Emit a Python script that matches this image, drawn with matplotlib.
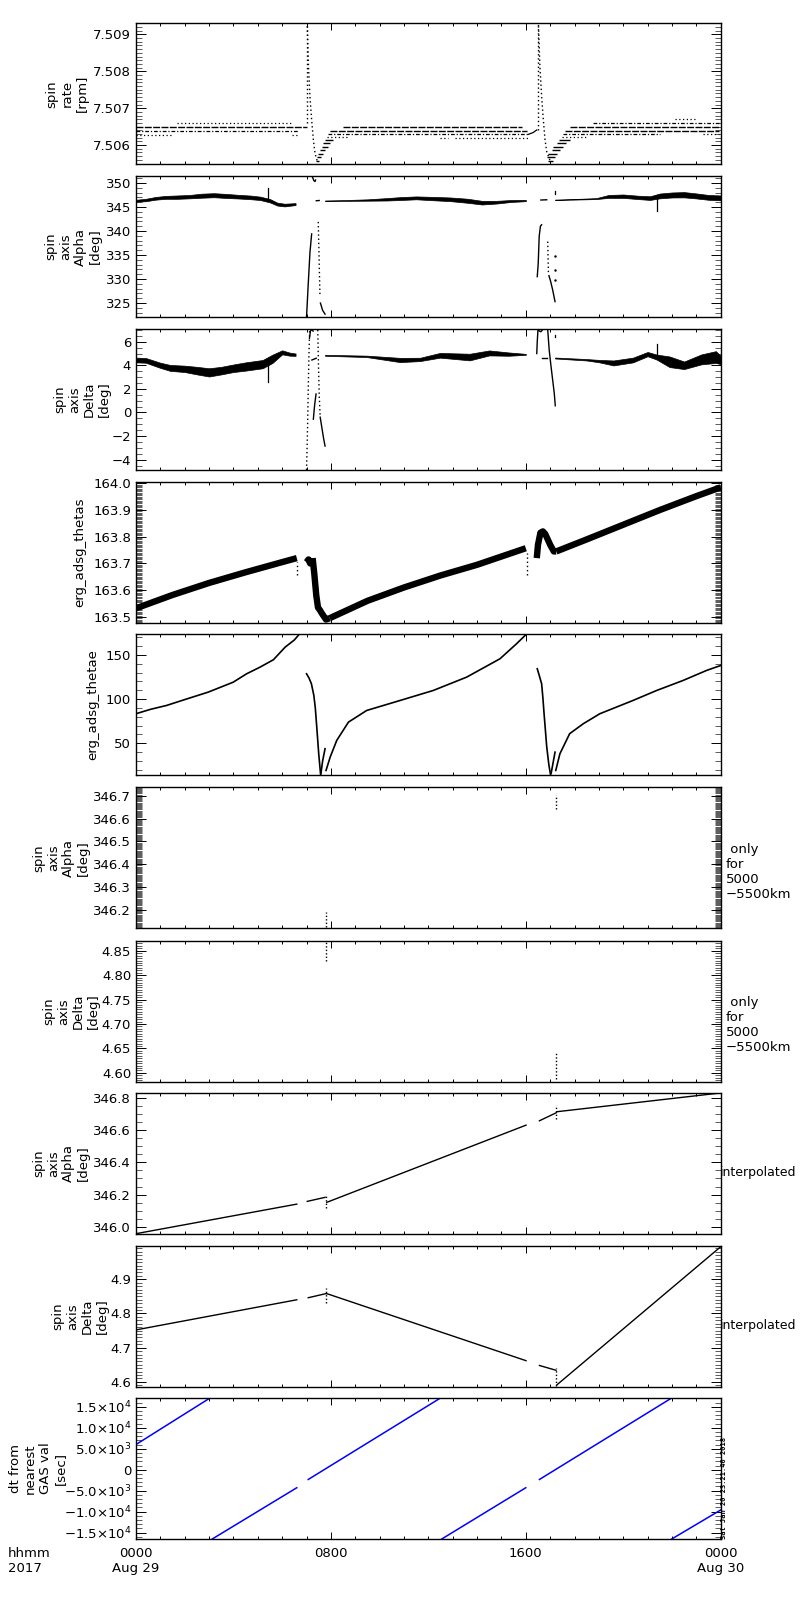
import numpy as np
import matplotlib
matplotlib.use('Agg')
import matplotlib.pyplot as plt
from matplotlib.ticker import MultipleLocator, FixedLocator, FixedFormatter, NullFormatter

plt.rcParams['font.family'] = ['DejaVu Sans']

# time axis is hours from 2017-08-29 0000 UT

# ---- panel 1: spin rate [rpm], quantised levels (start hr, end hr, value)
rateDense = [(0.00, 7.00, 7.50648), (8.50, 15.83, 7.50648), (7.96, 16.04, 7.50638),
             (17.81, 23.95, 7.50648), (17.60, 23.95, 7.50638)]
rateDashDot = [(0.00, 6.64, 7.50638), (7.90, 16.10, 7.50629), (17.54, 21.50, 7.50629),
               (18.77, 23.95, 7.50659)]
rateDotted = [(1.68, 6.39, 7.50659), (0.00, 1.43, 7.50628), (6.39, 6.64, 7.50628),
              (7.83, 8.72, 7.50621), (12.48, 12.80, 7.50620), (13.10, 16.13, 7.50620),
              (17.47, 18.50, 7.50621), (22.12, 23.00, 7.50670), (23.27, 23.95, 7.50629)]
rateStairs = [(7.38, 7.50, 7.50557), (7.42, 7.60, 7.50568), (7.49, 7.69, 7.50577),
              (7.55, 7.76, 7.50586), (7.63, 7.90, 7.50595), (7.69, 7.96, 7.50605),
              (7.76, 8.10, 7.50614),
              (16.93, 17.13, 7.50557), (16.86, 17.20, 7.50568), (16.93, 17.27, 7.50577),
              (17.06, 17.40, 7.50586), (17.13, 17.54, 7.50595), (17.27, 17.67, 7.50605),
              (17.38, 17.81, 7.50614)]
rateSpikeRise = [(7.00, 7.5066, 7.5093), (16.49, 7.5064, 7.5093)]
rateDescent1T = [7.03, 7.08, 7.14, 7.21, 7.28, 7.35, 7.44]
rateDescent1V = [7.50922, 7.50813, 7.50732, 7.50668, 7.50614, 7.50577, 7.50557]
rateDescent2T = [16.52, 16.58, 16.65, 16.72, 16.79, 16.86, 17.00]
rateDescent2V = [7.50922, 7.50813, 7.50732, 7.50668, 7.50614, 7.50582, 7.50557]
rateRampT = [16.10, 16.30, 16.45]
rateRampV = [7.50629, 7.50634, 7.50641]

# ---- panel 2: spin axis alpha [deg]
alphaBand1T = [0.0, 0.4, 0.8, 1.2, 1.7, 2.2, 2.7, 3.2, 3.7, 4.2, 4.7, 5.1, 5.5, 5.8, 6.1, 6.55]
alphaBand1C = [346.3, 346.45, 346.8, 347.0, 347.05, 347.15, 347.35, 347.45, 347.3, 347.15,
               347.0, 346.8, 346.3, 345.6, 345.4, 345.6]
alphaBand1W = [0.2, 0.25, 0.28, 0.3, 0.35, 0.35, 0.42, 0.42, 0.42, 0.38, 0.38, 0.35, 0.35,
               0.3, 0.28, 0.2]
alphaBand2T = [7.76, 8.5, 9.5, 10.3, 10.84, 11.5, 12.2, 12.9, 13.6, 14.2, 14.8, 15.4, 16.0]
alphaBand2C = [346.3, 346.35, 346.45, 346.6, 346.75, 346.9, 346.75, 346.6, 346.3, 345.9,
               346.0, 346.25, 346.35]
alphaBand2W = [0.05, 0.08, 0.14, 0.25, 0.3, 0.3, 0.35, 0.38, 0.42, 0.38, 0.28, 0.2, 0.14]
alphaBand3T = [17.2, 18.0, 18.9, 19.4, 20.0, 20.6, 21.1, 21.5, 22.0, 22.5, 23.0, 23.5, 24.0]
alphaBand3C = [346.5, 346.6, 346.75, 347.2, 347.25, 347.0, 346.85, 347.3, 347.5, 347.55,
               347.3, 347.0, 346.9]
alphaBand3W = [0.04, 0.06, 0.1, 0.3, 0.35, 0.35, 0.38, 0.5, 0.52, 0.55, 0.52, 0.5, 0.5]
alphaSticks = [(5.40, 346.5, 348.9), (21.37, 344.1, 347.3), (17.21, 347.6, 348.3)]
alphaRise1T = [7.00, 7.07, 7.14, 7.21]
alphaRise1V = [322.1, 329.0, 335.5, 339.4]
alphaTop1T = [7.23, 7.30, 7.35, 7.37]
alphaTop1V = [351.4, 350.5, 350.3, 350.6]
alphaDash1T = [7.40, 7.52]
alphaDash1V = [346.3, 346.35]
alphaDot1T = [7.48, 7.55]
alphaDot1V = [341.9, 326.7]
alphaFall1T = [7.57, 7.66, 7.76]
alphaFall1V = [325.0, 323.5, 322.7]
alphaRise2T = [16.47, 16.51, 16.55, 16.60, 16.65]
alphaRise2V = [330.5, 333.3, 338.9, 341.0, 341.3]
alphaDash2T = [16.62, 16.86]
alphaDash2V = [346.45, 346.5]
alphaDot2T = [16.90, 16.93]
alphaDot2V = [337.8, 330.9]
alphaFall2T = [16.95, 17.02, 17.10, 17.20]
alphaFall2V = [330.7, 329.5, 327.8, 325.3]
alphaDots2 = [(17.21, 334.7), (17.21, 331.8), (17.21, 329.8)]

# ---- panel 3: spin axis delta [deg]
deltaBand1T = [0.0, 0.4, 1.0, 1.4, 2.0, 2.5, 3.0, 3.5, 4.0, 4.5, 5.2, 5.6, 6.0, 6.3, 6.55]
deltaBand1C = [4.45, 4.42, 4.0, 3.78, 3.7, 3.55, 3.4, 3.55, 3.75, 3.9, 4.1, 4.55, 5.1, 4.95, 4.9]
deltaBand1W = [0.2, 0.2, 0.22, 0.25, 0.27, 0.32, 0.35, 0.32, 0.32, 0.35, 0.35, 0.35, 0.17,
               0.13, 0.1]
deltaBand2T = [7.76, 9.47, 10.84, 11.66, 12.48, 13.7, 14.5, 15.3, 16.0]
deltaBand2C = [4.85, 4.76, 4.45, 4.5, 4.85, 4.7, 5.05, 4.95, 4.93]
deltaBand2W = [0.04, 0.06, 0.18, 0.14, 0.2, 0.28, 0.21, 0.14, 0.04]
deltaBand3T = [17.2, 18.5, 19.0, 19.6, 20.4, 21.0, 21.37, 21.9, 22.5, 23.2, 23.8, 24.0]
deltaBand3C = [4.62, 4.47, 4.36, 4.2, 4.45, 4.95, 4.7, 4.3, 4.0, 4.5, 4.7, 4.45]
deltaBand3W = [0.04, 0.06, 0.1, 0.21, 0.2, 0.18, 0.21, 0.45, 0.32, 0.42, 0.5, 0.35]
deltaSticks = [(5.43, 2.56, 4.0), (21.37, 4.5, 5.85), (17.21, 6.4, 6.6)]
deltaRise1T = [7.00, 7.04, 7.07, 7.10, 7.13]
deltaRise1V = [-4.88, -1.5, 2.0, 5.0, 7.08]
deltaTop1T = [7.12, 7.16, 7.22, 7.27]
deltaTop1V = [6.3, 6.9, 7.05, 6.9]
deltaDash1T = [7.22, 7.40]
deltaDash1V = [4.45, 4.6]
deltaMid1T = [7.28, 7.33, 7.39]
deltaMid1V = [-0.57, 0.6, 1.57]
deltaDot1T = [7.46, 7.49, 7.52, 7.56]
deltaDot1V = [7.0, 4.0, 1.5, -0.4]
deltaFall1T = [7.56, 7.63, 7.70, 7.76]
deltaFall1V = [-0.4, -1.3, -2.2, -2.85]
deltaRise2T = [16.45, 16.47, 16.50, 16.56, 16.62, 16.70, 16.76]
deltaRise2V = [5.0, 6.0, 7.04, 6.9, 6.85, 7.05, 7.08]
deltaDash2T = [16.65, 16.86]
deltaDash2V = [4.62, 4.62]
deltaFall2T = [16.90, 16.96, 17.03, 17.10, 17.17, 17.21]
deltaFall2V = [7.0, 5.3, 4.0, 2.8, 1.6, 0.57]

# ---- panel 4: erg_adsg_thetas
thetasBand1T = [0.0, 1.5, 3.0, 4.5, 6.0, 6.6]
thetasBand1C = [163.532, 163.582, 163.627, 163.667, 163.705, 163.72]
thetasOrbit1T = [7.0, 7.08, 7.15, 7.22]
thetasOrbit1C = [163.705, 163.715, 163.70, 163.72]
thetasFall1T = [7.25, 7.32, 7.40, 7.47, 7.55, 7.65, 7.80, 7.95]
thetasFall1C = [163.72, 163.66, 163.58, 163.535, 163.525, 163.51, 163.49, 163.495]
thetasBand2T = [7.95, 9.5, 11.0, 12.5, 14.0, 16.0]
thetasBand2C = [163.495, 163.56, 163.61, 163.655, 163.695, 163.757]
thetasBumpT = [16.45, 16.50, 16.60, 16.70, 16.80, 16.90, 17.00, 17.15, 17.25]
thetasBumpC = [163.72, 163.77, 163.815, 163.82, 163.81, 163.79, 163.77, 163.745, 163.745]
thetasBand3T = [17.25, 18.5, 20.0, 21.5, 23.0, 24.0]
thetasBand3C = [163.745, 163.79, 163.845, 163.9, 163.952, 163.985]
thetasSticks = [(6.62, 163.655, 163.705), (16.05, 163.655, 163.74)]

# ---- panel 5: erg_adsg_thetae
thetae1T = [0.0, 0.6, 1.26, 2.0, 2.97, 3.99, 4.54, 5.09, 5.64, 6.12, 6.5, 6.7]
thetae1V = [83.5, 88.5, 92.9, 99.5, 108, 119.2, 128.7, 136.2, 144.6, 158.8, 167, 173.4]
thetae2T = [7.00, 7.10, 7.20, 7.30, 7.36, 7.42, 7.50, 7.58]
thetae2V = [128.7, 124, 117.4, 104.2, 90, 68.3, 38.2, 13.8]
thetae3T = [7.59, 7.66, 7.76]
thetae3V = [15.6, 30, 43.9]
thetae4T = [7.80, 7.97, 8.24, 8.72, 9.47, 10.84, 12.2, 13.57, 14.94, 15.62, 16.02]
thetae4V = [19.3, 34.4, 53.3, 74, 87.2, 98.5, 109.8, 124.9, 145.7, 162.7, 173.4]
thetae5T = [16.47, 16.55, 16.65, 16.70, 16.75, 16.86, 16.95, 17.02]
thetae5V = [134.4, 127, 117.4, 102, 83.5, 45.7, 25, 13.8]
thetae6T = [17.04, 17.12, 17.20]
thetae6V = [16, 28, 40]
thetae7T = [17.23, 17.40, 17.80, 18.36, 19.04, 20.4, 21.37, 22.46, 23.42, 24.0]
thetae7V = [19.3, 38.2, 60.9, 72.2, 83.5, 98.5, 109.8, 121.2, 132.5, 138.1]

# ---- panels 6,7: alpha/delta only for 5000-5500 km
alphaOnlySticks = [(7.80, 346.127, 346.193), (17.24, 346.644, 346.702)]
deltaOnlySticks = [(7.80, 4.8294, 4.8685), (17.24, 4.5877, 4.6424)]

# ---- panels 8,9: interpolated
alphaInterpT = [0.0, 6.60, np.nan, 7.03, 7.76, np.nan, 7.83, 16.01, np.nan, 16.56, 17.24,
                np.nan, 17.27, 23.63, 24.0]
alphaInterpV = [345.958, 346.141, np.nan, 346.158, 346.183, np.nan, 346.152, 346.63, np.nan,
                346.657, 346.706, np.nan, 346.713, 346.823, 346.829]
alphaInterpSticks = [(7.80, 346.12, 346.204), (17.24, 346.671, 346.754)]
deltaInterpT = [0.0, 6.60, np.nan, 7.07, 7.80, np.nan, 7.83, 16.01, np.nan, 16.56, 17.24,
                np.nan, 17.27, 24.0]
deltaInterpV = [4.752, 4.840, np.nan, 4.846, 4.858, np.nan, 4.858, 4.662, np.nan,
                4.648, 4.634, np.nan, 4.591, 4.995]
deltaInterpSticks = [(7.80, 4.83, 4.873), (17.24, 4.588, 4.642)]

# ---- panel 10: dt from nearest GAS val [sec]
dtT = [0.0, 3.04, np.nan, 3.13, 6.60, np.nan, 7.07, 12.50, np.nan, 12.55, 16.00, np.nan,
       16.56, 21.99, np.nan, 21.99, 24.0]
dtV = [6000, 17100, np.nan, -16520, -4300, np.nan, -2330, 17100, np.nan, -16520, -4300,
       np.nan, -2330, 17100, np.nan, -16520, -9600]

yLimits = [(7.50548, 7.5093), (322.1, 351.45), (-4.88, 7.08), (163.477, 164.005),
           (13.8, 173.4), (346.12, 346.737), (4.582, 4.8706), (345.956, 346.829),
           (4.586, 4.998), (-16520, 17090)]
yMajor = [[7.506, 7.507, 7.508, 7.509], [325, 330, 335, 340, 345, 350], [-4, -2, 0, 2, 4, 6],
          [163.5, 163.6, 163.7, 163.8, 163.9, 164.0], [50, 100, 150],
          [346.2, 346.3, 346.4, 346.5, 346.6, 346.7], [4.60, 4.65, 4.70, 4.75, 4.80, 4.85],
          [346.0, 346.2, 346.4, 346.6, 346.8], [4.6, 4.7, 4.8, 4.9],
          [-15000, -10000, -5000, 0, 5000, 10000, 15000]]
yMinorStep = [0.0001, 1, 0.5, 0.005, 10, 0.005, 0.005, 0.05, 0.01, 1000]
yTickFmt = ['%.3f', '%d', '%d', '%.1f', '%d', '%.1f', '%.2f', '%.1f', '%.1f', None]
dtTickLabels = ['\u22121.5\u00d710$^{4}$', '\u22121.0\u00d710$^{4}$', '\u22125.0\u00d710$^{3}$', '0',
                '5.0\u00d710$^{3}$', '1.0\u00d710$^{4}$', '1.5\u00d710$^{4}$']

yLabels = ['spin\nrate\n[rpm]', 'spin\naxis\nAlpha\n[deg]', 'spin\naxis\nDelta\n[deg]',
           'erg_adsg_thetas', 'erg_adsg_thetae', 'spin\naxis\nAlpha\n[deg]',
           'spin\naxis\nDelta\n[deg]', 'spin\naxis\nAlpha\n[deg]', 'spin\naxis\nDelta\n[deg]',
           'dt from\nnearest\nGAS val\n[sec]']
yLabelX = [67, 73, 82, 80, 93, 61, 71, 61, 80, 38]
rightNotes = [None, None, None, None, None, ' only\nfor\n5000\n\u22125500km',
              ' only\nfor\n5000\n\u22125500km', 'interpolated', 'interpolated', None]

timeTicks = [0, 8, 16, 24]
timeTickLabels = ['0000\nAug 29', '0800', '1600', '0000\nAug 30']

# ---------------- layout (pixels) ----------------
W, H = 800, 1600
panelTops = [23.3, 176, 329, 482, 634.3, 787.3, 940.7, 1093, 1245.7, 1398]
panelHeight = 141
axLeft, axRight = 136, 720.7

fig = plt.figure(figsize=(8, 16), dpi=100)
fig.patch.set_facecolor('white')


def figPos(x, y):
    return x / W, 1 - y / H


def drawLevels(ax, levels, ls, lw=0.9):
    for t0, t1, v in levels:
        ax.plot([t0, t1], [v, v], color='k', lw=lw, linestyle=ls, solid_capstyle='butt')


def drawSticks(ax, sticks, ls=':', lw=1.0):
    for t, v0, v1 in sticks:
        ax.plot([t, t], [v0, v1], color='k', lw=lw, linestyle=ls)


def drawBand(ax, t, c, w):
    c = np.array(c)
    w = np.array(w)
    ax.fill_between(t, c - w, c + w, color='k', lw=0.5, edgecolor='k')


axes = []
for i, top in enumerate(panelTops):
    ax = fig.add_axes([axLeft / W, 1 - (top + panelHeight) / H,
                       (axRight - axLeft) / W, panelHeight / H])
    ax.set_xlim(0, 24)
    ax.set_ylim(*yLimits[i])
    ax.xaxis.set_major_locator(FixedLocator(timeTicks))
    ax.xaxis.set_minor_locator(MultipleLocator(1))
    ax.xaxis.set_major_formatter(NullFormatter())
    ax.yaxis.set_major_locator(FixedLocator(yMajor[i]))
    ax.yaxis.set_minor_locator(MultipleLocator(yMinorStep[i]))
    if yTickFmt[i] is None:
        ax.yaxis.set_major_formatter(FixedFormatter(dtTickLabels))
    else:
        labs = [(yTickFmt[i] % v).replace('-', '\u2212') for v in yMajor[i]]
        ax.yaxis.set_major_formatter(FixedFormatter(labs))
    ax.tick_params(which='both', direction='in', top=True, right=True,
                   labelsize=9.5, color='k')
    ax.tick_params(axis='y', which='major', length=7.2, width=0.7)
    ax.tick_params(axis='y', which='minor', length=4.3, width=0.45)
    ax.tick_params(axis='x', which='major', length=5, width=0.7)
    ax.tick_params(axis='x', which='minor', length=2.5, width=0.7)
    for sp in ax.spines.values():
        sp.set_linewidth(1.0)
    xc, yc = figPos(yLabelX[i], top + panelHeight / 2)
    fig.text(xc, yc, yLabels[i], rotation=90, ha='center', va='center',
             multialignment='center', fontsize=9.5)
    if rightNotes[i] is not None:
        if rightNotes[i] == 'interpolated':
            nx, ny = figPos(720, top + panelHeight / 2 + 9)
            fig.text(nx, ny, rightNotes[i], ha='left', va='center', fontsize=9)
        else:
            nx, ny = figPos(726, top + panelHeight / 2 + 14)
            fig.text(nx, ny, rightNotes[i], ha='left', va='center', fontsize=9.5)
    axes.append(ax)

# panel 1
ax = axes[0]
drawLevels(ax, rateDense, (0, (5, 1)), 1.0)
drawLevels(ax, rateDashDot, (0, (3, 1.5, 1, 1.5)), 0.9)
drawLevels(ax, rateDotted, (0, (1, 2)), 0.9)
drawLevels(ax, rateStairs, '-', 1.0)
drawSticks(ax, rateSpikeRise, (0, (1, 2)), 1.0)
ax.plot(rateDescent1T, rateDescent1V, color='k', lw=1.0, linestyle=(0, (1, 2)))
ax.plot(rateDescent2T, rateDescent2V, color='k', lw=1.0, linestyle=(0, (1, 2)))
ax.plot(rateRampT, rateRampV, color='k', lw=0.9)

# panel 2
ax = axes[1]
drawBand(ax, alphaBand1T, alphaBand1C, alphaBand1W)
drawBand(ax, alphaBand2T, alphaBand2C, alphaBand2W)
drawBand(ax, alphaBand3T, alphaBand3C, alphaBand3W)
drawSticks(ax, alphaSticks, '-', 0.9)
for t, v in [(alphaRise1T, alphaRise1V), (alphaTop1T, alphaTop1V), (alphaDash1T, alphaDash1V),
             (alphaFall1T, alphaFall1V), (alphaRise2T, alphaRise2V), (alphaDash2T, alphaDash2V),
             (alphaFall2T, alphaFall2V)]:
    ax.plot(t, v, color='k', lw=1.0)
ax.plot(alphaDot1T, alphaDot1V, color='k', lw=1.0, linestyle=(0, (1, 2)))
ax.plot(alphaDot2T, alphaDot2V, color='k', lw=1.0, linestyle=(0, (1, 2)))
ax.plot([p[0] for p in alphaDots2], [p[1] for p in alphaDots2], 'k.', ms=1.5)

# panel 3
ax = axes[2]
drawBand(ax, deltaBand1T, deltaBand1C, deltaBand1W)
drawBand(ax, deltaBand2T, deltaBand2C, deltaBand2W)
drawBand(ax, deltaBand3T, deltaBand3C, deltaBand3W)
drawSticks(ax, deltaSticks, '-', 0.9)
for t, v in [(deltaTop1T, deltaTop1V), (deltaDash1T, deltaDash1V), (deltaMid1T, deltaMid1V),
             (deltaFall1T, deltaFall1V), (deltaRise2T, deltaRise2V), (deltaDash2T, deltaDash2V),
             (deltaFall2T, deltaFall2V)]:
    ax.plot(t, v, color='k', lw=1.0)
ax.plot(deltaRise1T, deltaRise1V, color='k', lw=1.0, linestyle=(0, (1, 2)))
ax.plot(deltaDot1T, deltaDot1V, color='k', lw=1.0, linestyle=(0, (1, 2)))

# panel 4
ax = axes[3]
for t, v in [(thetasBand1T, thetasBand1C), (thetasOrbit1T, thetasOrbit1C),
             (thetasFall1T, thetasFall1C), (thetasBand2T, thetasBand2C),
             (thetasBumpT, thetasBumpC), (thetasBand3T, thetasBand3C)]:
    ax.plot(t, v, color='k', lw=4.6, solid_capstyle='butt')
drawSticks(ax, thetasSticks, (0, (1, 2)), 1.0)

# panel 5
ax = axes[4]
for t, v in [(thetae1T, thetae1V), (thetae2T, thetae2V), (thetae3T, thetae3V),
             (thetae4T, thetae4V), (thetae5T, thetae5V), (thetae6T, thetae6V),
             (thetae7T, thetae7V)]:
    ax.plot(t, v, color='k', lw=1.2)

# panels 6-9
drawSticks(axes[5], alphaOnlySticks, (0, (1, 1.5)), 1.0)
drawSticks(axes[6], deltaOnlySticks, (0, (1, 1.5)), 1.0)
axes[7].plot(alphaInterpT, alphaInterpV, color='k', lw=1.0)
drawSticks(axes[7], alphaInterpSticks, (0, (1, 1.5)), 1.0)
axes[8].plot(deltaInterpT, deltaInterpV, color='k', lw=1.0)
drawSticks(axes[8], deltaInterpSticks, (0, (1, 1.5)), 1.0)

# panel 10
axes[9].plot(dtT, dtV, color='#0000ff', lw=1.1)

# time labels under the bottom panel
for t, lab in zip(timeTicks, timeTickLabels):
    x = axLeft + (axRight - axLeft) * t / 24.0
    tx, ty = figPos(x, 1547)
    fig.text(tx, ty, lab, ha='center', va='top', multialignment='center', fontsize=9.5)
tx, ty = figPos(8, 1547)
fig.text(tx, ty, 'hhmm\n2017', ha='left', va='top', fontsize=9.5)

sx, sy = figPos(724.5, 1539)
fig.text(sx, sy, 'Sat Jan 20 23:21:40 2018', rotation=90, ha='center', va='bottom',
         fontsize=5, family='DejaVu Sans Mono', fontweight='bold')

fig.savefig('out.png', dpi=100, facecolor='white')
